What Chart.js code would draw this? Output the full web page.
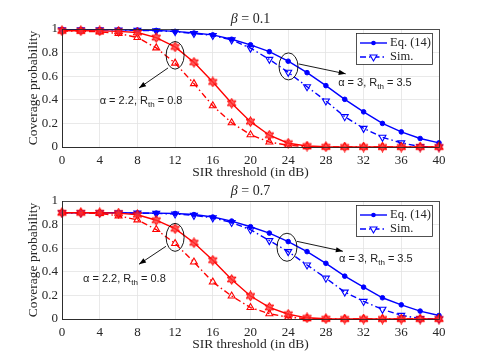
<!DOCTYPE html>
<html>
<head>
<meta charset="utf-8">
<script src="https://cdn.jsdelivr.net/npm/chart.js@4.4.1/dist/chart.umd.min.js"></script>
<style>
  html, body { margin: 0; padding: 0; background: #fff; }
  #wrap { position: relative; width: 485px; height: 363px; overflow: hidden; }
  .panel { position: absolute; left: 0; width: 485px; height: 181px; }
</style>
</head>
<body>
<div id="wrap">
  <div class="panel" style="top:0"><canvas id="chart-top" width="485" height="181"></canvas></div>
  <div class="panel" style="top:172px"><canvas id="chart-bottom" width="485" height="181"></canvas></div>
</div>
<script>
const SERIF = '"Liberation Serif", "Times New Roman", serif';
const SANS = '"Liberation Sans", Arial, sans-serif';
const INK = '#262626';
const BLUE = '#0000ff';
const RED = '#ff0000';

// SIR threshold (dB)
const sirDb = [0, 2, 4, 6, 8, 10, 12, 14, 16, 18, 20, 22, 24, 26, 28, 30, 32, 34, 36, 38, 40];
const xTicks = [0, 4, 8, 12, 16, 20, 24, 28, 32, 36, 40];
const yTicks = [0, 0.2, 0.4, 0.6, 0.8, 1];

// beta = 0.1
const redEqB01  = [0.985, 0.985, 0.984, 0.98, 0.97, 0.927, 0.848, 0.718, 0.551, 0.371, 0.215, 0.1, 0.032, 0.008, 0.002, 0, 0, 0, 0, 0, 0];
const redSimB01 = [0.983, 0.982, 0.976, 0.962, 0.928, 0.84, 0.711, 0.537, 0.349, 0.205, 0.104, 0.042, 0.014, 0.003, 0, 0, 0, 0, 0, 0, 0];
const blueEqB01  = [0.995, 0.995, 0.995, 0.994, 0.991, 0.988, 0.98, 0.966, 0.95, 0.913, 0.866, 0.808, 0.727, 0.63, 0.52, 0.404, 0.298, 0.2, 0.128, 0.072, 0.035];
const blueSimB01 = [0.993, 0.993, 0.993, 0.992, 0.989, 0.985, 0.978, 0.962, 0.945, 0.908, 0.838, 0.743, 0.633, 0.511, 0.39, 0.257, 0.158, 0.082, 0.035, 0.003, 0];

// beta = 0.7
const redEqB07  = [0.9, 0.9, 0.9, 0.897, 0.883, 0.837, 0.765, 0.646, 0.498, 0.335, 0.195, 0.098, 0.04, 0.01, 0.002, 0, 0, 0, 0, 0, 0];
const redSimB07 = [0.9, 0.9, 0.895, 0.874, 0.84, 0.758, 0.64, 0.483, 0.313, 0.195, 0.097, 0.045, 0.015, 0.003, 0, 0, 0, 0, 0, 0, 0];
const blueEqB07  = [0.9, 0.9, 0.9, 0.9, 0.898, 0.897, 0.894, 0.885, 0.864, 0.83, 0.782, 0.728, 0.656, 0.571, 0.472, 0.363, 0.27, 0.18, 0.12, 0.067, 0.03];
const blueSimB07 = [0.9, 0.9, 0.9, 0.9, 0.897, 0.895, 0.89, 0.878, 0.857, 0.818, 0.757, 0.664, 0.571, 0.458, 0.346, 0.228, 0.149, 0.082, 0.031, 0.004, 0];

const legendLabels = ['Eq. (14)', 'Sim.'];

/**
 * Builds a six-point star used as the red Eq. marker
 * @returns canvas element usable as a pointStyle
 */
function hexagram(color, size) {
  const c = document.createElement('canvas');
  c.width = size;
  c.height = size;
  const g = c.getContext('2d');
  const r = size / 2 - 0.6;
  g.beginPath();
  for (let i = 0; i < 12; i++) {
    const ang = -Math.PI / 2 + (i * Math.PI) / 6;
    const rad = i % 2 === 0 ? r : r * 0.55;
    g.lineTo(size / 2 + rad * Math.cos(ang), size / 2 + rad * Math.sin(ang));
  }
  g.closePath();
  g.fillStyle = 'rgba(255,50,50,0.8)';
  g.strokeStyle = color;
  g.lineWidth = 1;
  g.fill();
  g.stroke();
  return c;
}

const starMarker = hexagram(RED, 11);
const SIM_DASH = [6, 3, 1.5, 3];

function toPoints(values) {
  return sirDb.map((x, i) => ({ x: x, y: values[i] }));
}

function eqSet(values, color, marker) {
  return {
    data: toPoints(values),
    borderColor: color,
    backgroundColor: color,
    borderWidth: 1.4,
    pointStyle: marker || 'circle',
    pointRadius: marker ? 5 : 2.3,
    pointBorderWidth: 1,
    pointBackgroundColor: color,
    tension: 0,
    clip: false,
  };
}

function simSet(values, color, rotation) {
  return {
    data: toPoints(values),
    borderColor: color,
    backgroundColor: color,
    borderWidth: 1.4,
    borderDash: SIM_DASH,
    pointStyle: 'triangle',
    pointRotation: rotation,
    pointRadius: 4,
    pointBorderWidth: 1.1,
    pointBackgroundColor: 'rgba(255,255,255,0)',
    tension: 0,
    clip: false,
  };
}

function arrow(ctx, x1, y1, x2, y2) {
  ctx.beginPath();
  ctx.moveTo(x1, y1);
  ctx.lineTo(x2, y2);
  ctx.stroke();
  const a = Math.atan2(y2 - y1, x2 - x1);
  const L = 7, W = 2.6;
  ctx.beginPath();
  ctx.moveTo(x2, y2);
  ctx.lineTo(x2 - L * Math.cos(a) + W * Math.sin(a), y2 - L * Math.sin(a) - W * Math.cos(a));
  ctx.lineTo(x2 - L * Math.cos(a) - W * Math.sin(a), y2 - L * Math.sin(a) + W * Math.cos(a));
  ctx.closePath();
  ctx.fill();
}

function subText(ctx, x, y, parts) {
  // parts: [main, sub, rest]
  ctx.textBaseline = 'middle';
  ctx.textAlign = 'left';
  ctx.font = '11px ' + SANS;
  ctx.fillText(parts[0], x, y);
  x += ctx.measureText(parts[0]).width;
  ctx.font = '8px ' + SANS;
  ctx.fillText(parts[1], x, y + 4);
  x += ctx.measureText(parts[1]).width;
  ctx.font = '11px ' + SANS;
  ctx.fillText(parts[2], x, y);
}

// Draws the box, title, notes and legend of a panel
const panelDecor = {
  id: 'panelDecor',
  afterDatasetsDraw(chart, args, opts) {
    const ctx = chart.ctx;
    const xs = chart.scales.x, ys = chart.scales.y;
    const a = chart.chartArea;
    ctx.save();

    // axes box
    ctx.strokeStyle = INK;
    ctx.lineWidth = 0.8;
    ctx.strokeRect(a.left + 0.5, a.top + 0.5, a.right - a.left, a.bottom - a.top);

    // title
    ctx.fillStyle = INK;
    ctx.textBaseline = 'middle';
    ctx.textAlign = 'left';
    ctx.font = 'italic 14px ' + SERIF;
    const beta = '\u03B2';
    const rest = ' = ' + opts.beta;
    const wb = ctx.measureText(beta).width;
    ctx.font = '14px ' + SERIF;
    const wr = ctx.measureText(rest).width;
    const tx = (a.left + a.right) / 2 - (wb + wr) / 2;
    ctx.font = 'italic 14px ' + SERIF;
    ctx.fillText(beta, tx, a.top - 10);
    ctx.font = '14px ' + SERIF;
    ctx.fillText(rest, tx + wb, a.top - 10);

    // ellipses, arrows and notes
    ctx.strokeStyle = '#000';
    ctx.fillStyle = '#000';
    ctx.lineWidth = 0.9;
    opts.notes.forEach((n) => {
      ctx.beginPath();
      ctx.ellipse(xs.getPixelForValue(n.ellipse[0]), ys.getPixelForValue(n.ellipse[1]), n.ellipse[2], n.ellipse[3], 0, 0, Math.PI * 2);
      ctx.stroke();
      arrow(ctx,
        xs.getPixelForValue(n.arrow[0]), ys.getPixelForValue(n.arrow[1]),
        xs.getPixelForValue(n.arrow[2]), ys.getPixelForValue(n.arrow[3]));
      ctx.fillStyle = '#222';
      subText(ctx, xs.getPixelForValue(n.text[0]), ys.getPixelForValue(n.text[1]), n.label);
      ctx.fillStyle = '#000';
    });
    ctx.restore();
  },
  afterDraw(chart, args, opts) {
    const ctx = chart.ctx;
    const a = chart.chartArea;
    const ds = chart.data.datasets;
    const bx = a.right - 83, by = a.top + 4, bw = 76, bh = 31;
    ctx.save();
    ctx.fillStyle = '#fff';
    ctx.fillRect(bx, by, bw, bh);
    ctx.strokeStyle = INK;
    ctx.lineWidth = 0.8;
    ctx.strokeRect(bx + 0.5, by + 0.5, bw, bh);

    opts.legendSets.forEach((idx, row) => {
      const d = ds[idx];
      const y = by + 10 + row * 14;
      const x1 = bx + 4, x2 = bx + 31, xm = (x1 + x2) / 2;
      ctx.strokeStyle = d.borderColor;
      ctx.lineWidth = d.borderWidth;
      ctx.setLineDash(d.borderDash || []);
      ctx.beginPath();
      ctx.moveTo(x1, y);
      ctx.lineTo(x2, y);
      ctx.stroke();
      ctx.setLineDash([]);
      ctx.strokeStyle = d.borderColor;
      ctx.lineWidth = d.pointBorderWidth;
      ctx.beginPath();
      if (d.pointStyle === 'circle') {
        ctx.fillStyle = d.pointBackgroundColor;
        ctx.arc(xm, y, d.pointRadius, 0, Math.PI * 2);
        ctx.fill();
      } else {
        const r = d.pointRadius;
        const s = d.pointRotation ? -1 : 1;
        ctx.moveTo(xm, y - s * r);
        ctx.lineTo(xm - r * 0.866, y + s * r * 0.5);
        ctx.lineTo(xm + r * 0.866, y + s * r * 0.5);
        ctx.closePath();
        ctx.fillStyle = '#fff';
        ctx.fill();
        ctx.stroke();
      }
      ctx.fillStyle = INK;
      ctx.font = '12.5px ' + SERIF;
      ctx.textBaseline = 'middle';
      ctx.textAlign = 'left';
      ctx.fillText(legendLabels[row], bx + 34, y);
    });
    ctx.restore();
  },
};

function makeChart(canvasId, sets, beta, notes) {
  return new Chart(document.getElementById(canvasId).getContext('2d'), {
    type: 'line',
    data: {
      datasets: [
        eqSet(sets.redEq, RED, starMarker),
        simSet(sets.redSim, RED, 0),
        eqSet(sets.blueEq, BLUE),
        simSet(sets.blueSim, BLUE, 180),
      ],
    },
    options: {
      responsive: false,
      animation: false,
      events: [],
      layout: { padding: { top: 29, right: 46, left: 0, bottom: 0 } },
      plugins: {
        legend: { display: false },
        tooltip: { enabled: false },
        panelDecor: { beta: beta, notes: notes, legendSets: [2, 3] },
      },
      scales: {
        x: {
          type: 'linear',
          min: 0,
          max: 40,
          afterBuildTicks: (s) => { s.ticks = xTicks.map((v) => ({ value: v })); },
          ticks: { color: INK, font: { family: SERIF, size: 13 }, padding: 6, maxRotation: 0, autoSkip: false },
          grid: { color: '#e3e3e3', lineWidth: 0.8, drawTicks: false },
          border: { color: INK, width: 0.8 },
          title: { display: true, text: 'SIR threshold (in dB)', color: INK, font: { family: SERIF, size: 13.5 }, padding: { top: 0, bottom: 0 } },
          afterFit: (s) => { s.height = 34; },
        },
        y: {
          min: 0,
          max: 1,
          afterBuildTicks: (s) => { s.ticks = yTicks.map((v) => ({ value: v })); },
          ticks: { color: INK, font: { family: SERIF, size: 13 }, padding: 4, callback: (v) => String(+v.toFixed(1)) },
          grid: { color: '#e3e3e3', lineWidth: 0.8, drawTicks: false },
          border: { color: INK, width: 0.8 },
          title: { display: true, text: 'Coverage probability', color: INK, font: { family: SERIF, size: 13.5 }, padding: { top: 25, bottom: 0 } },
          afterFit: (s) => { s.width = 62; },
        },
      },
    },
    plugins: [panelDecor],
  });
}

// Render beta = 0.1 panel
makeChart('chart-top',
  { redEq: redEqB01, redSim: redSimB01, blueEq: blueEqB01, blueSim: blueSimB01 },
  '0.1',
  [
    { ellipse: [12, 0.777, 9, 13.8], arrow: [11.25, 0.67, 8.17, 0.5], text: [4.0, 0.39], label: ['\u03B1 = 2.2, R', 'th', ' = 0.8'] },
    { ellipse: [24.03, 0.683, 9.5, 13.5], arrow: [25.1, 0.704, 30.1, 0.62], text: [29.3, 0.54], label: ['\u03B1 = 3, R', 'th', ' = 3.5'] },
  ]);

// Render beta = 0.7 panel
makeChart('chart-bottom',
  { redEq: redEqB07, redSim: redSimB07, blueEq: blueEqB07, blueSim: blueSimB07 },
  '0.7',
  [
    { ellipse: [12, 0.692, 9, 14], arrow: [11.03, 0.616, 8.17, 0.464], text: [2.23, 0.343], label: ['\u03B1 = 2.2, R', 'th', ' = 0.8'] },
    { ellipse: [23.87, 0.608, 10, 14], arrow: [24.93, 0.658, 29.8, 0.574], text: [29.4, 0.506], label: ['\u03B1 = 3, R', 'th', ' = 3.5'] },
  ]);
</script>
</body>
</html>
